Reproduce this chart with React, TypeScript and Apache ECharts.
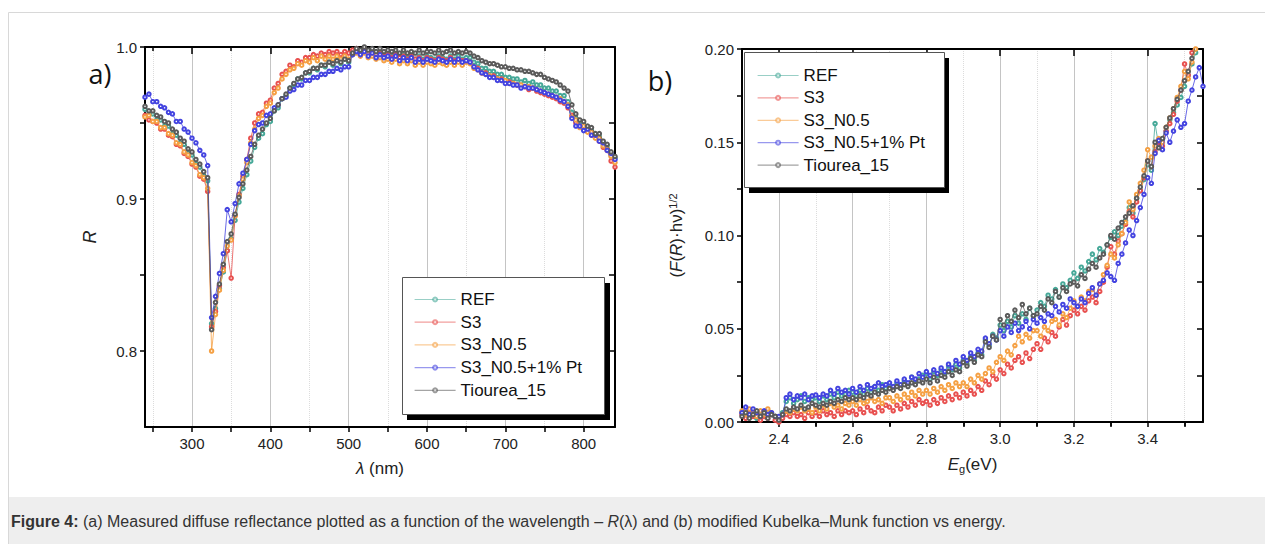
import React, { useEffect, useRef } from "react";
import * as echarts from "echarts";

// ---------- Panel (a): diffuse reflectance R vs wavelength (nm) ----------
const wavelength = [
  240, 245, 250, 255, 260, 265, 270, 275, 280, 285,
  290, 295, 300, 305, 310, 315, 320, 325, 330, 335,
  340, 345, 350, 355, 360, 365, 370, 375, 380, 385,
  390, 395, 400, 405, 410, 415, 420, 425, 430, 435,
  440, 445, 450, 455, 460, 465, 470, 475, 480, 485,
  490, 495, 500, 505, 510, 515, 520, 525, 530, 535,
  540, 545, 550, 555, 560, 565, 570, 575, 580, 585,
  590, 595, 600, 605, 610, 615, 620, 625, 630, 635,
  640, 645, 650, 655, 660, 665, 670, 675, 680, 685,
  690, 695, 700, 705, 710, 715, 720, 725, 730, 735,
  740, 745, 750, 755, 760, 765, 770, 775, 780, 785,
  790, 795, 800, 805, 810, 815, 820, 825, 830, 835,
  840,
];

const rREF = [
  0.959, 0.956, 0.956, 0.952, 0.952, 0.948, 0.948, 0.943, 0.942, 0.937,
  0.936, 0.930, 0.929, 0.923, 0.921, 0.915, 0.912, 0.818, 0.828, 0.841,
  0.852, 0.866, 0.874, 0.886, 0.898, 0.907, 0.916, 0.925, 0.934, 0.940,
  0.943, 0.949, 0.951, 0.958, 0.960, 0.966, 0.968, 0.973, 0.975, 0.979,
  0.979, 0.983, 0.983, 0.986, 0.985, 0.988, 0.987, 0.990, 0.988, 0.991,
  0.989, 0.992, 0.990, 0.995, 0.998, 0.997, 0.999, 0.996, 0.998, 0.995,
  0.997, 0.995, 0.996, 0.994, 0.996, 0.993, 0.995, 0.993, 0.995, 0.992,
  0.994, 0.992, 0.994, 0.993, 0.992, 0.994, 0.993, 0.992, 0.994, 0.992,
  0.994, 0.992, 0.993, 0.993, 0.990, 0.989, 0.986, 0.986, 0.984, 0.984,
  0.982, 0.982, 0.980, 0.980, 0.979, 0.979, 0.977, 0.978, 0.976, 0.977,
  0.975, 0.975, 0.973, 0.973, 0.971, 0.971, 0.968, 0.968, 0.964, 0.957,
  0.953, 0.949, 0.949, 0.945, 0.945, 0.941, 0.941, 0.936, 0.935, 0.929,
  0.927,
];

const rS3 = [
  0.955, 0.952, 0.951, 0.950, 0.946, 0.946, 0.942, 0.941, 0.936, 0.935,
  0.930, 0.928, 0.923, 0.921, 0.915, 0.913, 0.905, 0.816, 0.826, 0.843,
  0.855, 0.866, 0.848, 0.889, 0.903, 0.915, 0.926, 0.940, 0.950, 0.956,
  0.957, 0.963, 0.965, 0.973, 0.976, 0.982, 0.984, 0.988, 0.987, 0.991,
  0.990, 0.993, 0.993, 0.995, 0.994, 0.996, 0.995, 0.997, 0.996, 0.997,
  0.995, 0.997, 0.996, 0.998, 0.999, 0.997, 0.999, 0.996, 0.997, 0.995,
  0.996, 0.994, 0.995, 0.993, 0.995, 0.993, 0.994, 0.992, 0.994, 0.992,
  0.993, 0.991, 0.993, 0.992, 0.991, 0.993, 0.992, 0.991, 0.993, 0.991,
  0.992, 0.991, 0.991, 0.990, 0.987, 0.986, 0.983, 0.983, 0.981, 0.981,
  0.979, 0.979, 0.977, 0.977, 0.976, 0.975, 0.974, 0.974, 0.972, 0.973,
  0.971, 0.970, 0.969, 0.968, 0.967, 0.966, 0.964, 0.963, 0.960, 0.955,
  0.950, 0.948, 0.946, 0.945, 0.942, 0.941, 0.938, 0.934, 0.932, 0.925,
  0.921,
];

const rS3N05 = [
  0.954, 0.955, 0.951, 0.951, 0.947, 0.947, 0.943, 0.942, 0.937, 0.936,
  0.931, 0.929, 0.924, 0.922, 0.916, 0.914, 0.907, 0.800, 0.824, 0.840,
  0.853, 0.869, 0.873, 0.889, 0.902, 0.913, 0.924, 0.937, 0.946, 0.953,
  0.955, 0.961, 0.963, 0.970, 0.973, 0.979, 0.982, 0.985, 0.986, 0.989,
  0.988, 0.991, 0.990, 0.993, 0.991, 0.994, 0.992, 0.994, 0.992, 0.994,
  0.992, 0.994, 0.992, 0.995, 0.996, 0.994, 0.996, 0.993, 0.994, 0.992,
  0.993, 0.991, 0.992, 0.990, 0.992, 0.989, 0.991, 0.989, 0.991, 0.988,
  0.990, 0.988, 0.990, 0.989, 0.988, 0.990, 0.989, 0.988, 0.990, 0.988,
  0.990, 0.988, 0.990, 0.989, 0.986, 0.985, 0.983, 0.982, 0.981, 0.980,
  0.979, 0.978, 0.978, 0.976, 0.976, 0.975, 0.975, 0.974, 0.974, 0.973,
  0.972, 0.971, 0.970, 0.969, 0.968, 0.967, 0.966, 0.964, 0.962, 0.954,
  0.952, 0.947, 0.948, 0.944, 0.944, 0.940, 0.940, 0.935, 0.933, 0.928,
  0.924,
];

const rPt = [
  0.967, 0.969, 0.964, 0.964, 0.961, 0.960, 0.957, 0.956, 0.951, 0.951,
  0.946, 0.944, 0.940, 0.937, 0.932, 0.929, 0.922, 0.822, 0.836, 0.851,
  0.864, 0.893, 0.885, 0.897, 0.910, 0.917, 0.926, 0.936, 0.945, 0.949,
  0.950, 0.955, 0.956, 0.960, 0.962, 0.966, 0.967, 0.971, 0.972, 0.975,
  0.975, 0.978, 0.978, 0.980, 0.980, 0.982, 0.982, 0.984, 0.984, 0.986,
  0.985, 0.987, 0.987, 0.995, 0.997, 0.995, 0.997, 0.994, 0.996, 0.993,
  0.995, 0.993, 0.994, 0.992, 0.994, 0.991, 0.993, 0.991, 0.993, 0.990,
  0.992, 0.990, 0.992, 0.991, 0.990, 0.992, 0.991, 0.990, 0.992, 0.990,
  0.992, 0.990, 0.991, 0.990, 0.987, 0.985, 0.983, 0.982, 0.980, 0.980,
  0.978, 0.978, 0.976, 0.976, 0.975, 0.975, 0.973, 0.974, 0.973, 0.973,
  0.972, 0.971, 0.970, 0.969, 0.968, 0.967, 0.965, 0.964, 0.961, 0.953,
  0.948, 0.948, 0.945, 0.946, 0.942, 0.942, 0.938, 0.937, 0.932, 0.930,
  0.926,
];

const rTiourea = [
  0.961, 0.958, 0.958, 0.955, 0.954, 0.951, 0.950, 0.946, 0.944, 0.940,
  0.938, 0.933, 0.931, 0.926, 0.923, 0.918, 0.914, 0.814, 0.832, 0.844,
  0.857, 0.872, 0.877, 0.890, 0.901, 0.910, 0.919, 0.928, 0.936, 0.942,
  0.946, 0.950, 0.953, 0.958, 0.962, 0.966, 0.969, 0.973, 0.976, 0.979,
  0.980, 0.983, 0.984, 0.986, 0.986, 0.988, 0.988, 0.990, 0.989, 0.991,
  0.990, 0.992, 0.991, 0.996, 0.999, 0.998, 1.000, 0.998, 0.999, 0.997,
  0.999, 0.997, 0.998, 0.997, 0.998, 0.996, 0.998, 0.996, 0.997, 0.996,
  0.998, 0.996, 0.997, 0.997, 0.996, 0.998, 0.996, 0.997, 0.998, 0.996,
  0.997, 0.996, 0.997, 0.996, 0.994, 0.993, 0.991, 0.990, 0.989, 0.989,
  0.988, 0.987, 0.987, 0.986, 0.986, 0.985, 0.985, 0.984, 0.984, 0.983,
  0.982, 0.982, 0.980, 0.979, 0.978, 0.977, 0.975, 0.973, 0.971, 0.962,
  0.956, 0.952, 0.951, 0.948, 0.947, 0.943, 0.943, 0.938, 0.936, 0.931,
  0.928,
];

// ---------- Panel (b): (F(R)·hν)^1/2 vs energy (eV) ----------
const energy = [
  2.30, 2.31, 2.32, 2.33, 2.34, 2.35, 2.36, 2.37, 2.38, 2.39,
  2.40, 2.41, 2.42, 2.43, 2.44, 2.45, 2.46, 2.47, 2.48, 2.49,
  2.50, 2.51, 2.52, 2.53, 2.54, 2.55, 2.56, 2.57, 2.58, 2.59,
  2.60, 2.61, 2.62, 2.63, 2.64, 2.65, 2.66, 2.67, 2.68, 2.69,
  2.70, 2.71, 2.72, 2.73, 2.74, 2.75, 2.76, 2.77, 2.78, 2.79,
  2.80, 2.81, 2.82, 2.83, 2.84, 2.85, 2.86, 2.87, 2.88, 2.89,
  2.90, 2.91, 2.92, 2.93, 2.94, 2.95, 2.96, 2.97, 2.98, 2.99,
  3.00, 3.01, 3.02, 3.03, 3.04, 3.05, 3.06, 3.07, 3.08, 3.09,
  3.10, 3.11, 3.12, 3.13, 3.14, 3.15, 3.16, 3.17, 3.18, 3.19,
  3.20, 3.21, 3.22, 3.23, 3.24, 3.25, 3.26, 3.27, 3.28, 3.29,
  3.30, 3.31, 3.32, 3.33, 3.34, 3.35, 3.36, 3.37, 3.38, 3.39,
  3.40, 3.41, 3.42, 3.43, 3.44, 3.45, 3.46, 3.47, 3.48, 3.49,
  3.50, 3.51, 3.52, 3.53, 3.54, 3.55,
];

const kmREF = [
  0.005, 0.003, 0.006, 0.004, 0.002, 0.005, 0.003, 0.006, 0.004, 0.003,
  0.002, 0.005, 0.011, 0.013, 0.010, 0.012, 0.014, 0.011, 0.013, 0.012,
  0.013, 0.011, 0.014, 0.012, 0.015, 0.013, 0.016, 0.014, 0.015, 0.017,
  0.016, 0.014, 0.017, 0.015, 0.018, 0.016, 0.019, 0.017, 0.020, 0.018,
  0.020, 0.018, 0.021, 0.019, 0.022, 0.020, 0.024, 0.021, 0.023, 0.025,
  0.026, 0.023, 0.027, 0.025, 0.028, 0.026, 0.030, 0.028, 0.031, 0.029,
  0.033, 0.031, 0.035, 0.033, 0.037, 0.036, 0.044, 0.041, 0.047, 0.045,
  0.052, 0.049, 0.054, 0.051, 0.057, 0.053, 0.058, 0.055, 0.061, 0.057,
  0.060, 0.064, 0.062, 0.068, 0.066, 0.071, 0.067, 0.074, 0.072, 0.076,
  0.080, 0.077, 0.083, 0.081, 0.086, 0.090, 0.087, 0.093, 0.091, 0.095,
  0.099, 0.102, 0.100, 0.105, 0.108, 0.115, 0.112, 0.120, 0.124, 0.130,
  0.138, 0.135, 0.160, 0.148, 0.152, 0.156, 0.162, 0.166, 0.170, 0.174,
  0.180, 0.186, 0.192, 0.198, 0.206, 0.215,
];

const kmS3 = [
  0.004, 0.002, 0.005, 0.003, 0.004, 0.001, 0.003, 0.002, 0.004, 0.001,
  0.000, 0.002, 0.004, 0.003, 0.005, 0.003, 0.004, 0.002, 0.005, 0.003,
  0.005, 0.003, 0.006, 0.004, 0.005, 0.003, 0.006, 0.004, 0.006, 0.005,
  0.006, 0.004, 0.007, 0.005, 0.008, 0.006, 0.005, 0.008, 0.006, 0.009,
  0.008, 0.006, 0.009, 0.007, 0.010, 0.008, 0.011, 0.009, 0.012, 0.010,
  0.011, 0.009, 0.012, 0.010, 0.013, 0.011, 0.014, 0.012, 0.015, 0.013,
  0.016, 0.014, 0.017, 0.015, 0.019, 0.017, 0.022, 0.020, 0.025, 0.023,
  0.028, 0.026, 0.031, 0.029, 0.033, 0.035, 0.032, 0.037, 0.034, 0.039,
  0.042, 0.039, 0.045, 0.043, 0.048, 0.046, 0.051, 0.055, 0.052, 0.057,
  0.060, 0.058, 0.062, 0.060, 0.065, 0.067, 0.064, 0.070, 0.075, 0.083,
  0.094, 0.090, 0.097, 0.101, 0.106, 0.113, 0.110, 0.118, 0.124, 0.131,
  0.140, 0.137, 0.145, 0.150, 0.148, 0.156, 0.160, 0.165, 0.172, 0.178,
  0.192, 0.186, 0.198, 0.205, 0.212, 0.220,
];

const kmS3N05 = [
  0.006, 0.004, 0.007, 0.005, 0.003, 0.006, 0.004, 0.007, 0.005, 0.003,
  0.002, 0.004, 0.006, 0.005, 0.007, 0.006, 0.008, 0.006, 0.007, 0.005,
  0.008, 0.006, 0.009, 0.007, 0.010, 0.008, 0.009, 0.007, 0.010, 0.009,
  0.011, 0.009, 0.012, 0.010, 0.011, 0.013, 0.011, 0.012, 0.010, 0.013,
  0.013, 0.011, 0.014, 0.012, 0.015, 0.013, 0.016, 0.014, 0.017, 0.015,
  0.017, 0.015, 0.018, 0.016, 0.019, 0.017, 0.020, 0.018, 0.021, 0.019,
  0.021, 0.019, 0.023, 0.021, 0.025, 0.023, 0.026, 0.029, 0.027, 0.032,
  0.035, 0.033, 0.038, 0.036, 0.041, 0.046, 0.043, 0.047, 0.045, 0.049,
  0.049, 0.046, 0.051, 0.049, 0.054, 0.055, 0.052, 0.058, 0.056, 0.061,
  0.065, 0.062, 0.067, 0.065, 0.070, 0.071, 0.068, 0.074, 0.079, 0.084,
  0.090, 0.088, 0.095, 0.101, 0.107, 0.118, 0.114, 0.122, 0.128, 0.135,
  0.146, 0.142, 0.148, 0.152, 0.150, 0.158, 0.163, 0.168, 0.174, 0.180,
  0.188, 0.184, 0.193, 0.200, 0.208, 0.215,
];

const kmPt = [
  0.005, 0.008, 0.004, 0.007, 0.005, 0.003, 0.006, 0.004, 0.005, 0.003,
  0.003, 0.004, 0.013, 0.015, 0.012, 0.014, 0.013, 0.015, 0.012, 0.014,
  0.0145, 0.013, 0.015, 0.014, 0.017, 0.015, 0.018, 0.016, 0.017, 0.015,
  0.018, 0.016, 0.019, 0.017, 0.020, 0.018, 0.019, 0.021, 0.019, 0.020,
  0.021, 0.019, 0.022, 0.020, 0.023, 0.021, 0.024, 0.023, 0.026, 0.024,
  0.027, 0.025, 0.028, 0.026, 0.029, 0.027, 0.031, 0.029, 0.033, 0.031,
  0.035, 0.033, 0.037, 0.035, 0.039, 0.038, 0.045, 0.042, 0.046, 0.044,
  0.049, 0.046, 0.051, 0.048, 0.053, 0.049, 0.051, 0.054, 0.050, 0.055,
  0.053, 0.056, 0.054, 0.058, 0.057, 0.062, 0.059, 0.063, 0.061, 0.066,
  0.064, 0.062, 0.066, 0.064, 0.069, 0.072, 0.068, 0.074, 0.076, 0.080,
  0.078, 0.076, 0.085, 0.090, 0.096, 0.103, 0.100, 0.108, 0.115, 0.122,
  0.131, 0.128, 0.144, 0.151, 0.146, 0.155, 0.150, 0.156, 0.162, 0.158,
  0.160, 0.172, 0.178, 0.185, 0.190, 0.180,
];

const kmTiourea = [
  0.003, 0.005, 0.002, 0.004, 0.006, 0.003, 0.005, 0.002, 0.004, 0.003,
  0.001, 0.004, 0.007, 0.006, 0.008, 0.007, 0.009, 0.007, 0.008, 0.010,
  0.009, 0.008, 0.010, 0.009, 0.011, 0.010, 0.012, 0.011, 0.013, 0.012,
  0.013, 0.012, 0.014, 0.013, 0.015, 0.014, 0.016, 0.015, 0.017, 0.016,
  0.018, 0.017, 0.019, 0.018, 0.020, 0.019, 0.021, 0.020, 0.022, 0.021,
  0.023, 0.021, 0.024, 0.022, 0.025, 0.024, 0.027, 0.025, 0.028, 0.027,
  0.032, 0.030, 0.034, 0.032, 0.036, 0.035, 0.043, 0.040, 0.046, 0.044,
  0.055, 0.052, 0.057, 0.054, 0.060, 0.056, 0.063, 0.058, 0.061, 0.057,
  0.058, 0.062, 0.060, 0.066, 0.064, 0.070, 0.067, 0.072, 0.070, 0.074,
  0.075, 0.073, 0.079, 0.077, 0.082, 0.085, 0.083, 0.088, 0.090, 0.095,
  0.100, 0.098, 0.104, 0.107, 0.110, 0.112, 0.116, 0.120, 0.126, 0.132,
  0.140, 0.137, 0.150, 0.147, 0.152, 0.158, 0.163, 0.168, 0.173, 0.178,
  0.183, 0.188, 0.195, 0.202, 0.210, 0.218,
];

const seriesNames = ["REF", "S3", "S3_N0.5", "S3_N0.5+1% Pt", "Tiourea_15"];
const seriesColors = ["#45a898", "#e8504f", "#f5a043", "#4343e0", "#5a5a5a"];
const reflectance = [rREF, rS3, rS3N05, rPt, rTiourea];
const kubelka = [kmREF, kmS3, kmS3N05, kmPt, kmTiourea];

// ---------- tick / label values ----------
const lambdaLabels = [300, 400, 500, 600, 700, 800];
const lambdaTicks = [250, 300, 350, 400, 450, 500, 550, 600, 650, 700, 750, 800];
const lambdaMinor = [250, 350, 450, 550, 650, 750];
const rLabels = [0.8, 0.9, 1.0];
const rTicks = [0.8, 0.85, 0.9, 0.95, 1.0];
const eLabels = [2.4, 2.6, 2.8, 3.0, 3.2, 3.4];
const eTicks = [2.4, 2.5, 2.6, 2.7, 2.8, 2.9, 3.0, 3.1, 3.2, 3.3, 3.4, 3.5];
const eMinor = [2.5, 2.7, 2.9, 3.1, 3.3, 3.5];
const kmLabels = [0, 0.05, 0.1, 0.15, 0.2];
const kmTicks = [0, 0.025, 0.05, 0.075, 0.1, 0.125, 0.15, 0.175, 0.2];

const FONT = "'Liberation Sans', Arial, sans-serif";

const zip = (xs: number[], ys: number[]) => xs.map((x, i) => [x, ys[i]]);

const frame = { show: true, onZero: false, lineStyle: { color: "#000", width: 2 } };
const labelStyle = { fontSize: 15, fontFamily: FONT, color: "#222" };

function bottomAxis(grid: number, min: number, max: number, ticks: number[], labels: number[], digits: number, name: string, rich: any, nameGap: number) {
  return {
    type: "value", gridIndex: grid, position: "bottom", min, max,
    axisLine: frame,
    axisTick: { show: true, customValues: ticks, length: 5, lineStyle: { color: "#000", width: 1.5 } },
    axisLabel: { show: true, customValues: labels, margin: 9, ...labelStyle, formatter: (v: number) => v.toFixed(digits) },
    splitLine: { show: false },
    name, nameLocation: "middle", nameGap,
    nameTextStyle: { fontSize: 17, fontFamily: FONT, color: "#222", rich },
  };
}

function topAxis(grid: number, min: number, max: number, ticks: number[], len: number, split: any, line: boolean) {
  return {
    type: "value", gridIndex: grid, position: "top", min, max,
    axisLine: line ? frame : { show: false },
    axisTick: { show: true, inside: true, customValues: ticks, length: len, lineStyle: { color: "#000", width: 1.5 } },
    axisLabel: { show: false },
    splitLine: split,
  };
}

function leftAxis(grid: number, min: number, max: number, ticks: number[], labels: number[], digits: number, name: string, rich: any, nameGap: number) {
  return {
    type: "value", gridIndex: grid, position: "left", min, max,
    axisLine: frame,
    axisTick: { show: true, customValues: ticks, length: 5, lineStyle: { color: "#000", width: 1.5 } },
    axisLabel: { show: true, customValues: labels, margin: 8, ...labelStyle, formatter: (v: number) => v.toFixed(digits) },
    splitLine: { show: false },
    name, nameLocation: "middle", nameGap,
    nameTextStyle: { fontSize: 17, fontFamily: FONT, color: "#222", rich },
  };
}

function rightAxis(grid: number, min: number, max: number, ticks: number[]) {
  return {
    type: "value", gridIndex: grid, position: "right", min, max,
    axisLine: frame,
    axisTick: { show: true, inside: true, customValues: ticks, length: 6, lineStyle: { color: "#000", width: 1.5 } },
    axisLabel: { show: false },
    splitLine: { show: false },
  };
}

const majorSplit = { show: true, lineStyle: { color: "#c4c4c4", width: 1 } };
const minorSplit = { show: true, lineStyle: { color: "#dcdcdc", width: 1, type: "dotted" } };

function makeSeries(xs: number[], ys: number[][], xIdx: number, yIdx: number) {
  return seriesNames.map((name, i) => ({
    type: "line",
    name,
    xAxisIndex: xIdx,
    yAxisIndex: yIdx,
    data: zip(xs, ys[i]),
    symbol: "emptyCircle",
    symbolSize: 3.5,
    showSymbol: true,
    itemStyle: { color: seriesColors[i], borderWidth: 0.8 },
    lineStyle: { width: 0.8, color: seriesColors[i] },
    emphasis: { disabled: true },
    clip: true,
    z: 2 + i,
  }));
}

const legendBase = {
  data: seriesNames,
  orient: "vertical",
  itemWidth: 41,
  itemHeight: 5,
  padding: 0,
  selectedMode: false,
  lineStyle: { opacity: 0.55, width: 1.2 },
  itemStyle: { opacity: 0.6 },
  textStyle: { fontSize: 17, fontFamily: FONT, color: "#111", lineHeight: 17 },
  z: 20,
};

export default function App() {
  const ref = useRef<HTMLDivElement>(null);
  useEffect(() => {
    if (!ref.current) return;
    const chart = echarts.init(ref.current, null, { renderer: "svg" });
    const option: any = {
      animation: false,
      backgroundColor: "#ffffff",
      grid: [
        { left: 145, top: 47, width: 470, height: 380, containLabel: false },
        { left: 742, top: 49, width: 461, height: 373, containLabel: false },
      ],
      xAxis: [
        bottomAxis(0, 240, 840, lambdaTicks, lambdaLabels, 0, "{i|λ} (nm)", { i: { fontStyle: "italic", fontSize: 17, fontFamily: FONT, color: "#222" } }, 33),
        topAxis(0, 240, 840, lambdaLabels, 7, majorSplit, true),
        topAxis(0, 240, 840, lambdaMinor, 4, minorSplit, false),
        bottomAxis(1, 2.3, 3.55, eTicks, eLabels, 1, "{i|E}{sub|g}(eV)", {
          i: { fontStyle: "italic", fontSize: 17, fontFamily: FONT, color: "#222" },
          sub: { fontSize: 11, fontFamily: FONT, color: "#222", verticalAlign: "bottom", padding: [8, 0, 0, 0] },
        }, 33),
        topAxis(1, 2.3, 3.55, eLabels, 7, majorSplit, true),
        topAxis(1, 2.3, 3.55, eMinor, 4, minorSplit, false),
      ],
      yAxis: [
        leftAxis(0, 0.75, 1.0, rTicks, rLabels, 1, "{i|R}", { i: { fontStyle: "italic", fontSize: 18, fontFamily: FONT, color: "#222" } }, 46),
        rightAxis(0, 0.75, 1.0, rTicks),
        leftAxis(1, 0, 0.2, kmTicks, kmLabels, 2, "({i|F}({i|R})·hν){sup|1/2}", {
          i: { fontStyle: "italic", fontSize: 17, fontFamily: FONT, color: "#222" },
          sup: { fontSize: 11, fontFamily: FONT, color: "#222", verticalAlign: "top", padding: [0, 0, 8, 0] },
        }, 56),
        rightAxis(1, 0, 0.2, kmTicks),
      ],
      legend: [
        { ...legendBase, left: 414, top: 291, itemGap: 5.7 },
        { ...legendBase, left: 757, top: 67, itemGap: 5.4 },
      ],
      graphic: [
        { type: "rect", silent: true, z: 0, shape: { x: 8.5, y: 12.5, width: 1262, height: 540 }, style: { fill: "none", stroke: "#d8d8d8", lineWidth: 1 } },
        { type: "rect", silent: true, z: 0, shape: { x: 9, y: 497, width: 1256, height: 47 }, style: { fill: "#eeeeee" } },
        {
          type: "text", silent: true, z: 1, x: 11, y: 521,
          style: {
            text: "{b|Figure 4:} (a) Measured diffuse reflectance plotted as a function of the wavelength – {i|R}(λ) and (b) modified Kubelka–Munk function vs energy.",
            fontSize: 16, fontFamily: FONT, fill: "#333", verticalAlign: "middle",
            rich: {
              b: { fontWeight: "bold", fontSize: 16, fontFamily: FONT, fill: "#333" },
              i: { fontStyle: "italic", fontSize: 16, fontFamily: FONT, fill: "#333" },
            },
          },
        },
        { type: "text", silent: true, z: 1, x: 100, y: 73, style: { text: "a)", fontSize: 27, fontFamily: "'Open Sans', " + FONT, fill: "#111", align: "center", verticalAlign: "middle" } },
        { type: "text", silent: true, z: 1, x: 660, y: 80, style: { text: "b)", fontSize: 27, fontFamily: "'Open Sans', " + FONT, fill: "#111", align: "center", verticalAlign: "middle" } },
        { type: "rect", silent: true, z: 10, shape: { x: 407, y: 283, width: 203, height: 137 }, style: { fill: "#000" } },
        { type: "rect", silent: true, z: 11, shape: { x: 402.5, y: 277.5, width: 202, height: 137 }, style: { fill: "#fff", stroke: "#555", lineWidth: 1 } },
        { type: "rect", silent: true, z: 10, shape: { x: 749, y: 58, width: 200, height: 135 }, style: { fill: "#000" } },
        { type: "rect", silent: true, z: 11, shape: { x: 744.5, y: 52.5, width: 200, height: 135 }, style: { fill: "#fff", stroke: "#555", lineWidth: 1 } },
      ],
      series: [
        ...makeSeries(wavelength, reflectance, 0, 0),
        ...makeSeries(energy, kubelka, 3, 2),
      ],
    };
    chart.setOption(option);
    return () => chart.dispose();
  }, []);
  return (
    <div style={{ position: "absolute", left: 0, top: 0, width: 1265, height: 544 }}>
      <div ref={ref} style={{ width: 1265, height: 544 }} />
    </div>
  );
}
